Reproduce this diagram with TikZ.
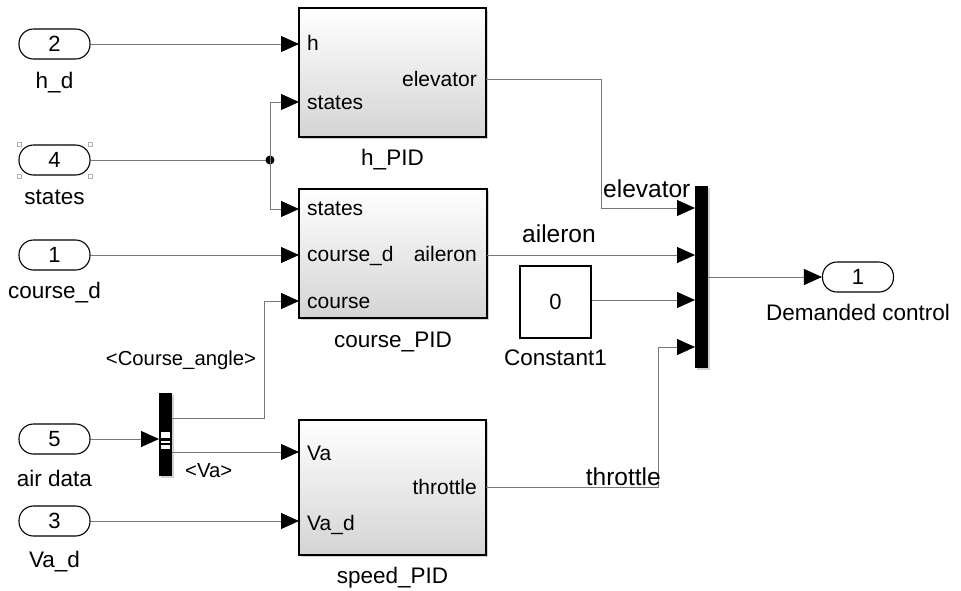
\documentclass[tikz,border=0pt]{standalone}
\usepackage{fontspec}
\setmainfont{Liberation Sans}
\usetikzlibrary{arrows.meta,shadows}
\newcommand\fsz[1]{\fontsize{#1}{#1}\selectfont}
\definecolor{wiregray}{RGB}{120,120,120}
\definecolor{blkbottom}{RGB}{212,212,212}
\begin{document}
\begin{tikzpicture}[x=1pt,y=-1pt,
  wire/.style={draw=wiregray,line width=0.9pt},
  sig/.style={wire,-{Triangle[length=18pt,width=16pt,black]}},
  pill/.style={draw,line width=1.1pt,rounded corners=14.5pt,minimum width=71pt,
    minimum height=30pt,inner sep=0pt,font=\fsz{22}},
  blk/.style={draw,line width=1.1pt,top color=white,bottom color=blkbottom,inner sep=0pt,
    drop shadow={shadow xshift=2pt,shadow yshift=-2pt,fill=black!35}},
  bar/.style={fill=black,inner sep=0pt,
    drop shadow={shadow xshift=2pt,shadow yshift=-2pt,fill=black!35}},
  lbl/.style={inner sep=0pt,font=\fsz{22.5}},
  plbl/.style={inner sep=0pt,font=\fsz{21}},
  slbl/.style={inner sep=0pt,font=\fsz{24.5}},
  tlbl/.style={inner sep=0pt,font=\fsz{20.3}},
  handle/.style={draw=black!30,fill=white,line width=0.6pt,minimum size=4pt,inner sep=0pt}
]
\useasboundingbox (0,0) rectangle (961,590);

% ---- inports ----
\node[pill] (in2) at (54.5,44) {2};
\node[lbl,anchor=base] at (54.5,88) {h\_d};
\node[pill] (in4) at (54.5,160) {4};
\node[lbl,anchor=base] at (54.5,204) {states};
\node[pill] (in1) at (54.5,255) {1};
\node[lbl,anchor=base] at (54.5,298) {course\_d};
\node[pill] (in5) at (54.5,439) {5};
\node[lbl,anchor=base] at (54.5,486) {air data};
\node[pill] (in3) at (54.5,521) {3};
\node[lbl,anchor=base] at (54.5,567) {Va\_d};
% selection handles around inport 4
\foreach \hx/\hy [count=\i] in {19/144,90/144,19/176,90/176}
  \node[handle] (sel\i) at (\hx,\hy) {};

% ---- subsystems ----
\node[blk,minimum width=187pt,minimum height=129pt] (hpid) at (392.5,72.5) {};
\node[plbl,anchor=base west] at (307,50) {h};
\node[plbl,anchor=base west] at (307,109) {states};
\node[plbl,anchor=base east] at (477,86) {elevator};
\node[lbl,anchor=base] at (392.5,165) {h\_PID};

\node[blk,minimum width=188pt,minimum height=129pt] (cpid) at (393,253.5) {};
\node[plbl,anchor=base west] at (307,215) {states};
\node[plbl,anchor=base west] at (307,261) {course\_d};
\node[plbl,anchor=base east] at (477,261) {aileron};
\node[plbl,anchor=base west] at (307,308) {course};
\node[lbl,anchor=base] at (393,347) {course\_PID};

\node[blk,minimum width=187pt,minimum height=135pt] (spid) at (392.5,487.5) {};
\node[plbl,anchor=base west] at (307,460) {Va};
\node[plbl,anchor=base west] at (307,530) {Va\_d};
\node[plbl,anchor=base east] at (477,494) {throttle};
\node[lbl,anchor=base] at (392.5,583) {speed\_PID};

% ---- constant ----
\node[draw,line width=1.1pt,fill=white,minimum width=71pt,minimum height=72pt,inner sep=0pt,
  font=\fsz{22}] (const) at (555.5,302) {0};
\node[lbl,anchor=base] at (555.5,365) {Constant1};

% ---- mux / bus selector ----
\node[bar,minimum width=13pt,minimum height=182pt] (mux) at (701.5,277) {};
\node[bar,minimum width=13pt,minimum height=83pt] (demux) at (165.5,434.5) {};
\fill[white] (161,432) rectangle (170,438);
\fill[white] (161,441) rectangle (170,443);
\fill[white] (161,445) rectangle (170,449);

% ---- outport ----
\node[pill] (out1) at (858,277) {1};
\node[lbl,anchor=base] at (858,320) {Demanded control};

% ---- port coordinates ----
\coordinate (hpid-h)   at (299,44);
\coordinate (hpid-s)   at (299,102);
\coordinate (hpid-out) at (486,79);
\coordinate (cpid-s)   at (299,209);
\coordinate (cpid-cd)  at (299,255);
\coordinate (cpid-c)   at (299,301);
\coordinate (cpid-out) at (487,255);
\coordinate (spid-va)  at (299,452);
\coordinate (spid-vad) at (299,521);
\coordinate (spid-out) at (486,487);
\coordinate (mux-1) at (695,208);
\coordinate (mux-2) at (695,255);
\coordinate (mux-3) at (695,300);
\coordinate (mux-4) at (695,347);
\coordinate (demux-in) at (159,439);
\coordinate (demux-1) at (172,418);
\coordinate (demux-2) at (172,452);
\coordinate (j) at (270,160);

% ---- signals ----
\draw[sig] (in2.east) -- (hpid-h);
\draw[wire] (in4.east) -- (j);
\fill (j) circle (4.5pt);
\draw[sig] (j) |- (hpid-s);
\draw[sig] (j) |- (cpid-s);
\draw[sig] (in1.east) -- (cpid-cd);
\draw[sig] (in5.east) -- (demux-in);
\draw[sig] (demux-1) -- ++(92,0) |- (cpid-c);
\draw[sig] (demux-2) -- (spid-va);
\draw[sig] (in3.east) -- (spid-vad);
\draw[sig] (hpid-out) -- ++(115,0) |- (mux-1);
\draw[sig] (cpid-out) -- (mux-2);
\draw[sig] (const.east |- mux-3) -- (mux-3);
\draw[sig] (spid-out) -- ++(172,0) |- (mux-4);
\draw[sig] (mux.east |- out1) -- (out1.west);

% ---- signal labels ----
\node[slbl,anchor=base west] at (603,197) {elevator};
\node[slbl,anchor=base west] at (522,242) {aileron};
\node[slbl,anchor=base east] at (661,485) {throttle};
\node[tlbl,anchor=base] at (181,365) {\textless Course\_angle\textgreater};
\node[tlbl,anchor=base west] at (185,477) {\textless Va\textgreater};
\end{tikzpicture}
\end{document}
